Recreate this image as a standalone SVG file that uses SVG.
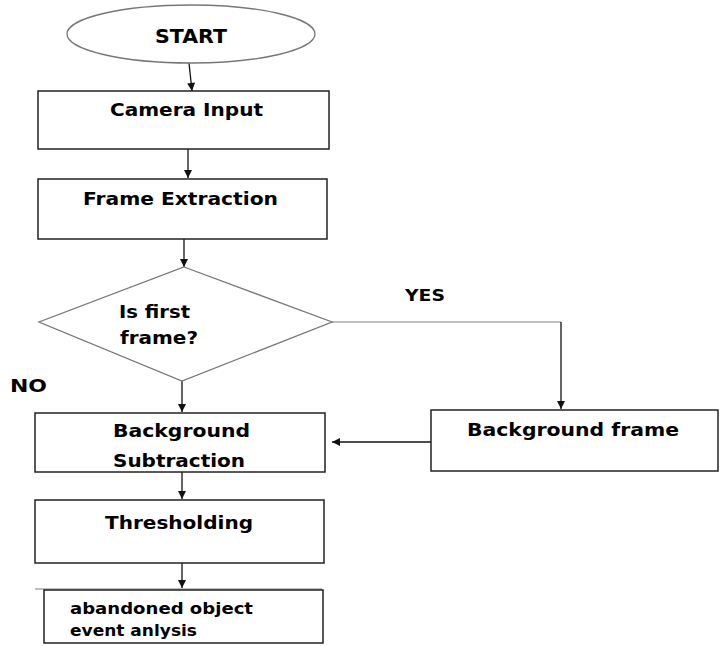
<svg xmlns="http://www.w3.org/2000/svg" width="725" height="646" viewBox="0 0 725 646">
<style>
.box{fill:#fff;stroke:#222;stroke-width:1.5}
.shape{fill:#fff;stroke:#777;stroke-width:1.3}
.t{font-family:"DejaVu Sans",Verdana,sans-serif;font-weight:bold;fill:#000}
.c{stroke:#111;stroke-width:1.3;fill:none}
.g{stroke:#aaa;stroke-width:1.5;fill:none}
</style>
<defs>
<marker id="ah" markerWidth="10" markerHeight="10" refX="9" refY="5" orient="auto" markerUnits="userSpaceOnUse">
<path d="M1,1 L9,5 L1,9 Z" fill="#111"/>
</marker>
</defs>
<rect width="725" height="646" fill="#fff"/>
<g id="connectors">
<line class="c" x1="189" y1="63" x2="192" y2="91" marker-end="url(#ah)"/>
<line class="c" x1="188" y1="149" x2="188" y2="178" marker-end="url(#ah)"/>
<line class="c" x1="184" y1="239" x2="184" y2="267" marker-end="url(#ah)"/>
<line class="c" x1="182" y1="381" x2="182" y2="412" marker-end="url(#ah)"/>
<polyline class="g" points="332,322 561,322"/>
<line class="c" x1="561" y1="322" x2="561" y2="409" marker-end="url(#ah)"/>
<line class="c" x1="431" y1="442" x2="332" y2="442" marker-end="url(#ah)"/>
<line class="c" x1="182" y1="472" x2="182" y2="499" marker-end="url(#ah)"/>
<line class="c" x1="182" y1="563" x2="182" y2="588" marker-end="url(#ah)"/>
<line class="g" x1="35" y1="589" x2="322" y2="589"/>
</g>
<g id="start">
<ellipse class="shape" cx="191" cy="34" rx="124" ry="29"/>
<text class="t" x="155" y="43" font-size="20" textLength="72" lengthAdjust="spacingAndGlyphs">START</text>
</g>
<g id="camera-input">
<rect class="box" x="38" y="91" width="291" height="58"/>
<text class="t" x="110" y="116" font-size="18" textLength="153" lengthAdjust="spacingAndGlyphs">Camera Input</text>
</g>
<g id="frame-extraction">
<rect class="box" x="38" y="179" width="289" height="60"/>
<text class="t" x="83" y="205" font-size="17" textLength="195" lengthAdjust="spacingAndGlyphs">Frame Extraction</text>
</g>
<g id="is-first-frame">
<polygon class="shape" points="184,267 332,322 182,381 39,322"/>
<text class="t" x="119" y="318" font-size="18" textLength="71" lengthAdjust="spacingAndGlyphs">Is first</text>
<text class="t" x="120" y="344" font-size="18" textLength="78" lengthAdjust="spacingAndGlyphs">frame?</text>
</g>
<g id="labels">
<text class="t" x="405" y="301" font-size="16" textLength="40" lengthAdjust="spacingAndGlyphs">YES</text>
<text class="t" x="10" y="392" font-size="17" textLength="37" lengthAdjust="spacingAndGlyphs">NO</text>
</g>
<g id="background-frame">
<rect class="box" x="431" y="410" width="287" height="61"/>
<text class="t" x="467" y="436" font-size="17" textLength="212" lengthAdjust="spacingAndGlyphs">Background frame</text>
</g>
<g id="background-subtraction">
<rect class="box" x="35" y="413" width="290" height="59"/>
<text class="t" x="113" y="437" font-size="17" textLength="137" lengthAdjust="spacingAndGlyphs">Background</text>
<text class="t" x="113" y="467" font-size="17" textLength="132" lengthAdjust="spacingAndGlyphs">Subtraction</text>
</g>
<g id="thresholding">
<rect class="box" x="35" y="500" width="289" height="63"/>
<text class="t" x="105" y="529" font-size="17" textLength="148" lengthAdjust="spacingAndGlyphs">Thresholding</text>
</g>
<g id="abandoned-object">
<rect class="box" x="44" y="590" width="279" height="53"/>
<text class="t" x="70" y="614" font-size="15" textLength="183" lengthAdjust="spacingAndGlyphs">abandoned object</text>
<text class="t" x="70" y="636" font-size="15" textLength="127" lengthAdjust="spacingAndGlyphs">event anlysis</text>
</g>
</svg>
